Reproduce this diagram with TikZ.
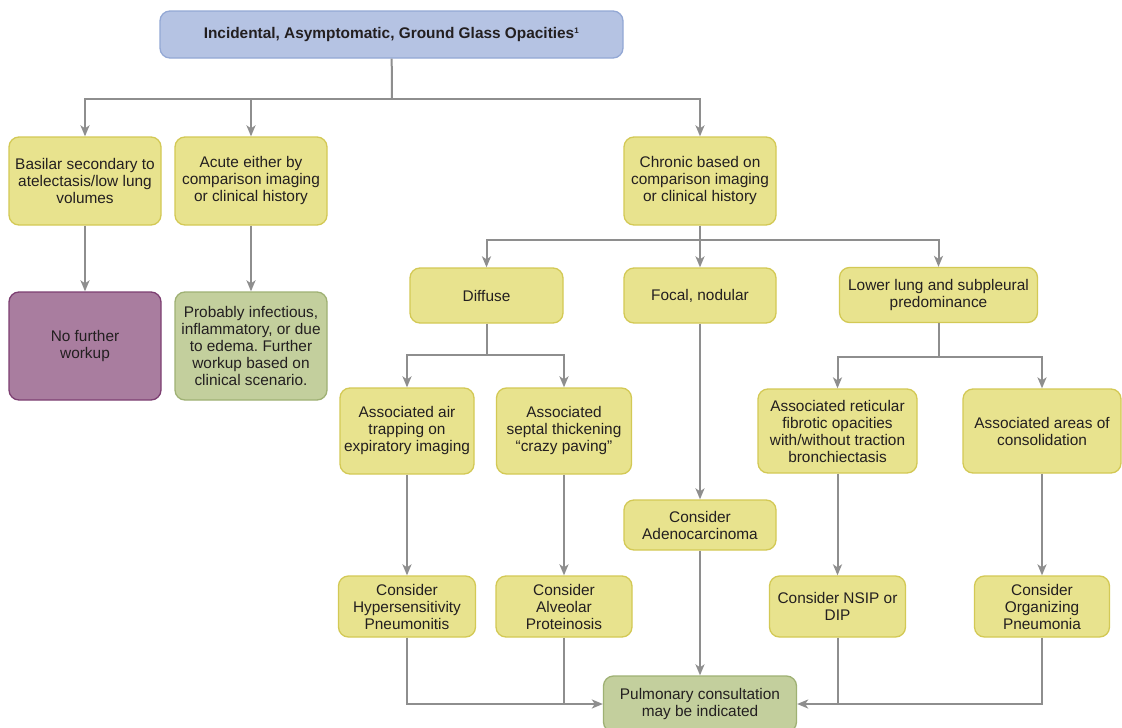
\documentclass[tikz,border=0pt]{standalone}
\usepackage{fontspec}
\setmainfont{Liberation Sans}
\usepackage{tikz}
\usetikzlibrary{arrows.meta}
\frenchspacing
\definecolor{yfill}{HTML}{E8E38E}
\definecolor{yedge}{HTML}{D3C955}
\definecolor{gfill}{HTML}{C3CF9D}
\definecolor{gedge}{HTML}{9FB174}
\definecolor{pfill}{HTML}{A97D9F}
\definecolor{pedge}{HTML}{7D3F72}
\definecolor{bfill}{HTML}{B5C3E3}
\definecolor{bedge}{HTML}{93A8D5}
\definecolor{linegray}{HTML}{8E8E8E}
\definecolor{textdark}{HTML}{231F20}
\tikzstyle{box}=[rounded corners=10pt,line width=1.3pt,align=center,
                 inner sep=0pt,text=textdark,
                 font=\fontsize{15.4}{17}\selectfont]
\tikzstyle{ybox}=[box,draw=yedge,fill=yfill]
\tikzstyle{gbox}=[box,draw=gedge,fill=gfill]
\tikzstyle{pbox}=[box,draw=pedge,fill=pfill]
\tikzstyle{bbox}=[box,draw=bedge,fill=bfill]
\tikzstyle{conn}=[draw=linegray,line width=2pt]
\tikzstyle{flow}=[conn,-{Stealth[length=11pt,width=9pt,inset=3pt]}]

\begin{document}
\begin{tikzpicture}[x=1pt,y=-1pt]
    \useasboundingbox (0,0) rectangle (1122,728);
    \fill[white] (0,0) rectangle (1122,728);
    % boxes
    \node (top) at (391.5,34.5) [bbox,minimum width=463pt,minimum height=47pt]
      {\textbf{Incidental, Asymptomatic, Ground Glass Opacities\textsuperscript{\fontsize{8}{8}\selectfont 1}}};
    \node (basilar) at (85,181) [ybox,minimum width=152pt,minimum height=88pt]
      {Basilar secondary to\\atelectasis/low lung\\volumes};
    \node (acute) at (251,181) [ybox,minimum width=152pt,minimum height=88pt]
      {Acute either by\\comparison imaging\\or clinical history};
    \node (chronic) at (700,181) [ybox,minimum width=152pt,minimum height=88pt]
      {Chronic based on\\comparison imaging\\or clinical history};
    \node (nofurther) at (85,346) [pbox,minimum width=152pt,minimum height=108pt]
      {No further\\workup};
    \node (infect) at (251,346) [gbox,minimum width=152pt,minimum height=108pt]
      {Probably infectious,\\inflammatory, or due\\to edema. Further\\workup based on\\clinical scenario.};
    \node (diffuse) at (486.5,295.5) [ybox,minimum width=153pt,minimum height=55pt]
      {Diffuse};
    \node (focal) at (700,295.5) [ybox,minimum width=152pt,minimum height=55pt]
      {Focal, nodular};
    \node (lower) at (938.5,295) [ybox,minimum width=198pt,minimum height=55pt]
      {Lower lung and subpleural\\predominance};
    \node (airtrap) at (407,431) [ybox,minimum width=134pt,minimum height=86pt]
      {Associated air\\trapping on\\expiratory imaging};
    \node (septal) at (564,431) [ybox,minimum width=135pt,minimum height=86pt]
      {Associated\\septal thickening\\``crazy paving''};
    \node (reticular) at (837.5,431) [ybox,minimum width=159pt,minimum height=84pt]
      {Associated reticular\\fibrotic opacities\\with/without traction\\bronchiectasis};
    \node (consol) at (1042,431) [ybox,minimum width=158pt,minimum height=84pt]
      {Associated areas of\\consolidation};
    \node (adeno) at (700,525) [ybox,minimum width=152pt,minimum height=50pt]
      {Consider\\Adenocarcinoma};
    \node (hyper) at (407,606.5) [ybox,minimum width=137pt,minimum height=61pt]
      {Consider\\Hypersensitivity\\Pneumonitis};
    \node (alveolar) at (564,606.5) [ybox,minimum width=136pt,minimum height=61pt]
      {Consider\\Alveolar\\Proteinosis};
    \node (nsip) at (837.5,606.5) [ybox,minimum width=136pt,minimum height=61pt]
      {Consider NSIP or\\DIP};
    \node (organizing) at (1042,606.5) [ybox,minimum width=135pt,minimum height=61pt]
      {Consider\\Organizing\\Pneumonia};
    \node (pulm) at (700,704) [gbox,minimum width=193pt,minimum height=56pt]
      {Pulmonary consultation\\may be indicated};
    % split points
    \coordinate (s1) at (392,99);
    \coordinate (s2) at (700,240);
    \coordinate (s3) at (486.5,355);
    \coordinate (s4) at (938.5,357);
    % connectors
    \draw[conn] (top) -- (s1);
    \draw[flow] (s1) -| (basilar);
    \draw[flow] (s1) -| (acute);
    \draw[flow] (s1) -| (chronic);
    \draw[flow] (basilar) -- (nofurther);
    \draw[flow] (acute) -- (infect);
    \draw[conn] (chronic) -- (s2);
    \draw[flow] (s2) -| (diffuse);
    \draw[flow] (s2) -- (focal);
    \draw[flow] (s2) -| (lower);
    \draw[conn] (diffuse) -- (s3);
    \draw[flow] (s3) -| (airtrap);
    \draw[flow] (s3) -| (septal);
    \draw[conn] (lower) -- (s4);
    \draw[flow] (s4) -| (reticular);
    \draw[flow] (s4) -| (consol);
    \draw[flow] (focal) -- (adeno);
    \draw[flow] (airtrap) -- (hyper);
    \draw[flow] (septal) -- (alveolar);
    \draw[flow] (reticular) -- (nsip);
    \draw[flow] (consol) -- (organizing);
    \draw[flow] (adeno) -- (pulm);
    \draw[flow] (hyper.south) |- (pulm.west);
    \draw[conn] (alveolar.south) -- (alveolar.south |- pulm.west);
    \draw[flow] (organizing.south) |- (pulm.east);
    \draw[conn] (nsip.south) -- (nsip.south |- pulm.east);
\end{tikzpicture}
\end{document}
